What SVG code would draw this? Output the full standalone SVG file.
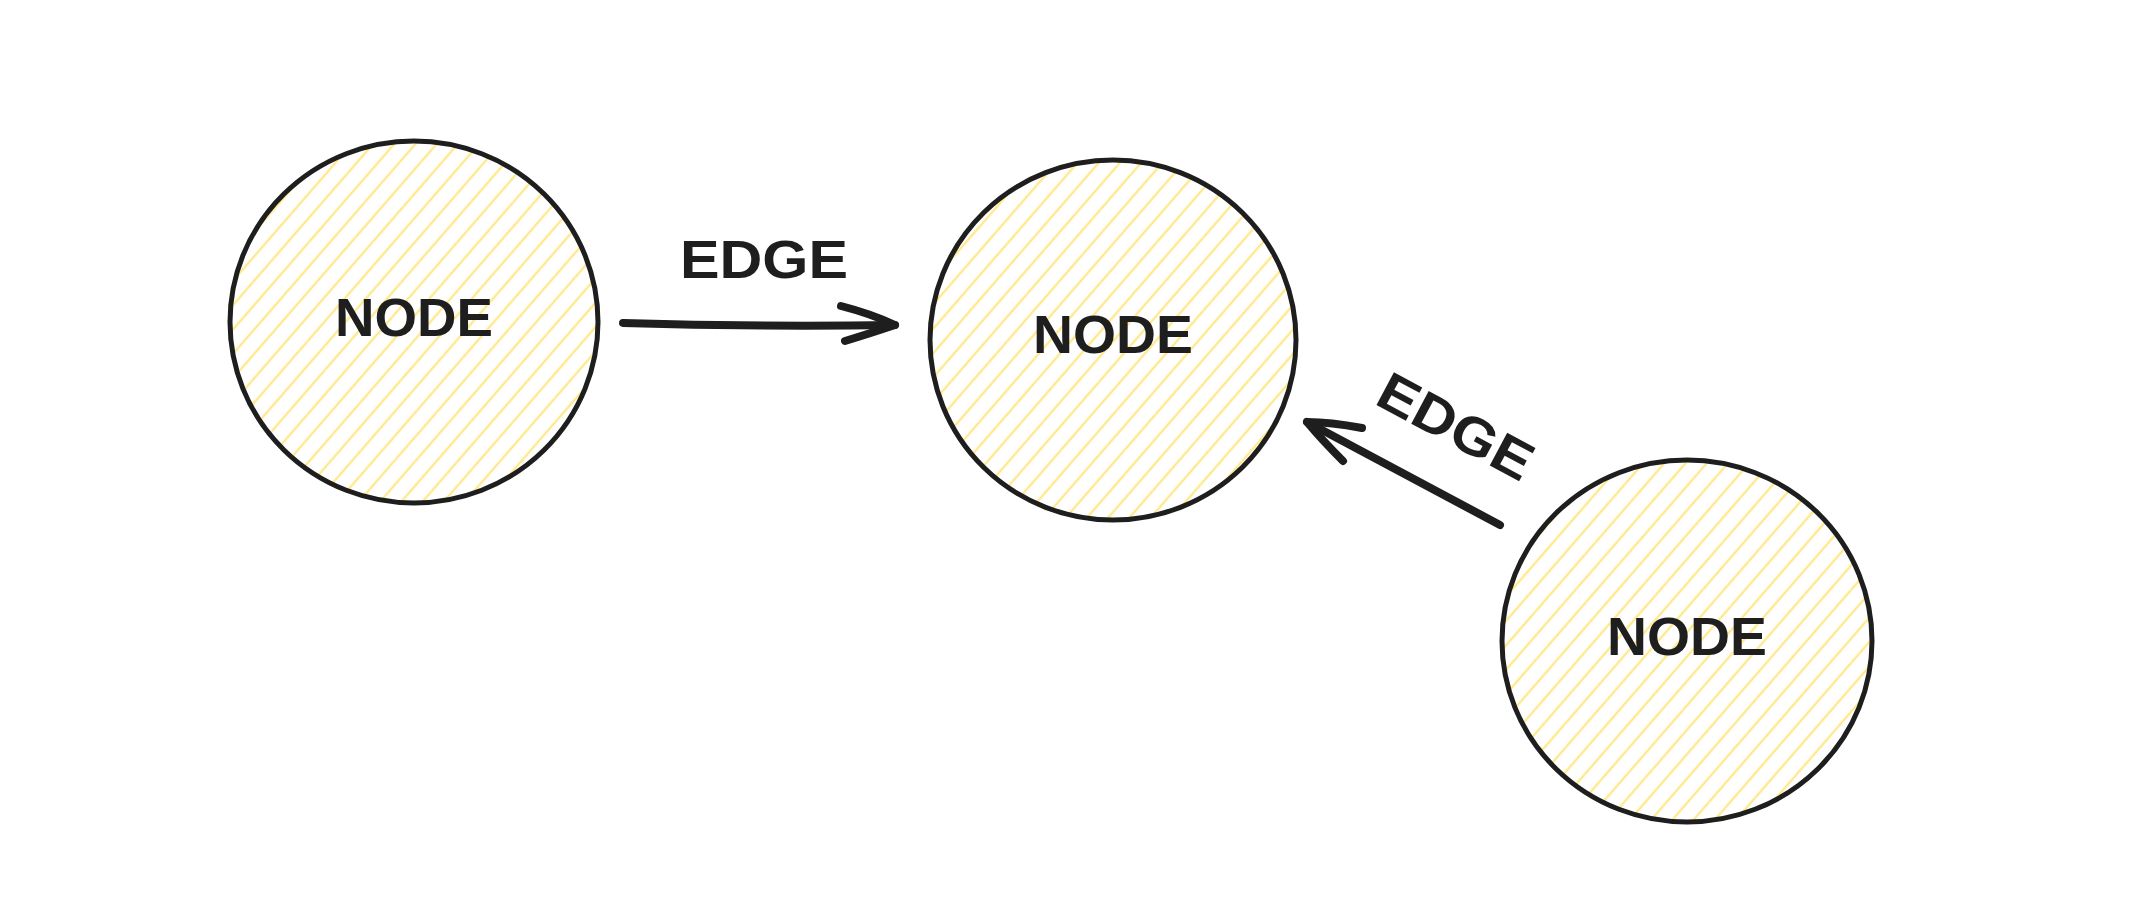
<svg xmlns="http://www.w3.org/2000/svg" width="2144" height="920" viewBox="0 0 2144 920">
  <style>
    .circle { fill: url(#hatch); stroke: #1e1e1e; stroke-width: 5; }
    .label { font-family: "Liberation Sans", Arial, sans-serif; font-size: 54px; font-weight: bold; fill: #1e1e1e; text-anchor: middle; }
    .edge { fill: none; stroke: #1e1e1e; stroke-width: 8; stroke-linecap: round; stroke-linejoin: round; }
  </style>
  <defs>
    <pattern id="hatch" patternUnits="userSpaceOnUse" width="16" height="16" patternTransform="rotate(41)">
      <line x1="8" y1="-2" x2="8" y2="18" stroke="#ffe98f" stroke-width="2.4"/>
    </pattern>
  </defs>
  <rect width="2144" height="920" fill="#ffffff"/>

  <g id="connectors">
    <g id="edge1">
      <path class="edge" d="M623,323 Q760,327 895,325"/>
      <path class="edge" d="M841,306 Q872,314 895,325 Q868,334 845,341"/>
      <text class="label" x="764" y="278" textLength="168" lengthAdjust="spacingAndGlyphs">EDGE</text>
    </g>
    <g id="edge2">
      <path class="edge" d="M1500,525 L1307,422"/>
      <path class="edge" d="M1362,428 Q1330,422 1307,422 Q1322,440 1343,461"/>
      <text class="label" transform="translate(1456,426) rotate(28)" x="0" y="19" textLength="168" lengthAdjust="spacingAndGlyphs">EDGE</text>
    </g>
  </g>

  <g id="node1">
    <ellipse class="circle" cx="414" cy="322" rx="184" ry="181"/>
    <text class="label" x="414" y="336" textLength="158" lengthAdjust="spacingAndGlyphs">NODE</text>
  </g>
  <g id="node2">
    <ellipse class="circle" cx="1113" cy="340" rx="183" ry="180"/>
    <text class="label" x="1113" y="353" textLength="160" lengthAdjust="spacingAndGlyphs">NODE</text>
  </g>
  <g id="node3">
    <ellipse class="circle" cx="1687" cy="641" rx="185" ry="181"/>
    <text class="label" x="1687" y="655" textLength="160" lengthAdjust="spacingAndGlyphs">NODE</text>
  </g>
</svg>
